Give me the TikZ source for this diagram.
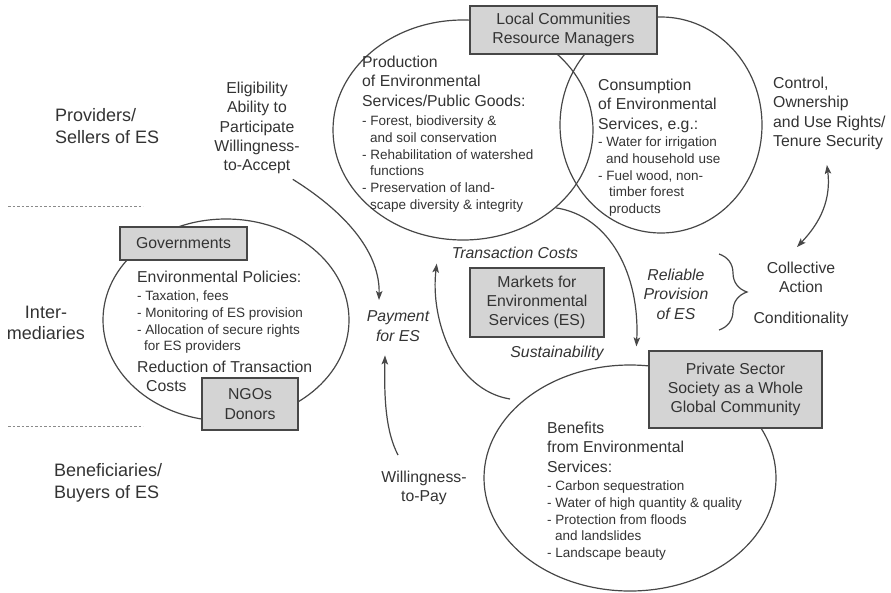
\documentclass[tikz,border=0pt]{standalone}
\usepackage{fontspec}
\setmainfont{Liberation Sans}
\usetikzlibrary{shapes.geometric,arrows.meta,decorations.pathreplacing,calc}
\definecolor{ink}{HTML}{333333}
\definecolor{ln}{HTML}{474747}
\definecolor{boxgray}{HTML}{D4D4D4}
\definecolor{dotgray}{HTML}{8A8A8A}

\begin{document}
\begin{tikzpicture}[x=1pt,y=-1pt,
  every node/.style={inner sep=0pt, text=ink},
  txt/.style={font=\fontsize{15.8}{19.4}\selectfont, align=left},
  ctxt/.style={font=\fontsize{15.8}{19.4}\selectfont, align=center},
  itxt/.style={font=\fontsize{15.8}{19.4}\selectfont\itshape, align=center},
  small/.style={font=\fontsize{13.5}{16.7}\selectfont, align=left},
  side/.style={font=\fontsize{18}{21.8}\selectfont},
  ring/.style={ellipse, draw=ln, line width=1.2pt},
  actor/.style={rectangle, draw=ln, fill=boxgray, line width=1.2pt,
    font=\fontsize{15.8}{19.3}\selectfont, align=center},
  flow/.style={draw=ln, line width=1.2pt, -{Stealth[length=9pt,width=6.5pt,inset=2pt]}},
  twoway/.style={draw=ln, line width=1.2pt, {Stealth[length=9pt,width=6.5pt,inset=2pt]}-{Stealth[length=9pt,width=6.5pt,inset=2pt]}},
  sep/.style={draw=dotgray, line width=1pt, dash pattern=on 2.5pt off 2pt}]

\useasboundingbox (0,0) rectangle (891,592);

% level separators
\draw[sep] (8,206) -- (143,206);
\draw[sep] (8,426) -- (143,426);

% level labels
\node[side, anchor=north west, align=left] (provlab) at (55,108.5) {Providers/\\Sellers of ES};
\node[side, anchor=north, align=center] (intlab) at (46,305.5) {Inter-\\mediaries};
\node[side, anchor=north west, align=left] (benlab) at (54,463.5) {Beneficiaries/\\Buyers of ES};

% rings
\node[ring, minimum width=260pt, minimum height=220pt] (prod) at (463,130) {};
\node[ring, minimum width=202pt, minimum height=216pt] (cons) at (661,125) {};
\node[ring, minimum width=246pt, minimum height=202pt] (gov) at (226,320) {};
\node[ring, minimum width=292pt, minimum height=226pt] (bene) at (630,478) {};

% actor boxes
\node[actor, minimum width=187pt, minimum height=48pt] (local) at (563.5,30) {Local Communities\\Resource Managers};
\node[actor, minimum width=127pt, minimum height=33pt] (govbox) at (183.5,243.5) {Governments};
\node[actor, minimum width=96pt, minimum height=52pt] (ngo) at (250,404) {NGOs\\Donors};
\node[actor, minimum width=134pt, minimum height=69pt] (market) at (537,302.5) {Markets for\\Environmental\\Services (ES)};
\node[actor, minimum width=173pt, minimum height=77pt] (priv) at (735.5,389.5) {Private Sector\\Society as a Whole\\Global Community};

% production of services
\node[txt, anchor=north west] (prodhead) at (362,55.6) {Production\\of Environmental\\Services/Public Goods:};
\node[small, anchor=north west] (prodlist) at (362,115.8) {- Forest, biodiversity \&\\\hspace*{8pt}and soil conservation\\- Rehabilitation of watershed\\\hspace*{8pt}functions\\- Preservation of land-\\\hspace*{8pt}scape diversity \& integrity};

% consumption of services
\node[txt, anchor=north west] (conshead) at (598,78.6) {Consumption\\of Environmental\\Services, e.g.:};
\node[small, anchor=north west] (conslist) at (598,136.8) {- Water for irrigation\\\hspace*{8pt}and household use\\- Fuel wood, non-\\\hspace*{11pt}timber forest\\\hspace*{11pt}products};

% environmental policies
\node[txt, anchor=north west] (polhead) at (137,270.6) {Environmental Policies:};
\node[small, anchor=north west] (pollist) at (137,290.8) {- Taxation, fees\\- Monitoring of ES provision\\- Allocation of secure rights\\\hspace*{7pt}for ES providers};
\node[txt, anchor=north west] (redtc) at (137,360.6) {Reduction of Transaction\\\hspace*{9pt}Costs};

% benefits
\node[txt, anchor=north west] (benhead) at (547,421.6) {Benefits\\from Environmental\\Services:};
\node[small, anchor=north west] (benlist) at (547,480.8) {- Carbon sequestration\\- Water of high quantity \& quality\\- Protection from floods\\\hspace*{8pt}and landslides\\- Landscape beauty};

% conditions and flows
\node[ctxt, anchor=north] (elig) at (257,81.6) {Eligibility\\Ability to\\Participate\\Willingness-\\to-Accept};
\node[itxt, anchor=north] (pay) at (398,310.6) {Payment\\for ES};
\node[ctxt, anchor=north] (wtp) at (424,470.6) {Willingness-\\to-Pay};
\node[itxt, anchor=north] (tc) at (515,246.6) {Transaction Costs};
\node[itxt, anchor=north] (sust) at (557,345.6) {Sustainability};
\node[itxt, anchor=north] (rel) at (676,268.6) {Reliable\\Provision\\of ES};
\node[txt, anchor=north west] (ctrl) at (773,76.6) {Control,\\Ownership\\and Use Rights/\\Tenure Security};
\node[ctxt, anchor=north] (coll) at (801,261.6) {Collective\\Action};
\node[ctxt, anchor=north] (cond) at (801,311.6) {Conditionality};

% brace grouping the conditions
\draw[ln, line width=1.2pt, decorate, decoration={brace, amplitude=28pt}] (719,254) -- (719,330);

% connectors
\coordinate (benetop) at (510,399);
\draw[flow] ($(elig.south east)+(-7,5)$) .. controls (350,215) and (380,255) .. ($(pay.north)+(-19,-10.6)$);
\draw[flow] ($(wtp.north)+(-26,-15.6)$) .. controls (386,432) and (384,400) .. ($(pay.south)+(-13,14)$);
\draw[flow] (benetop) .. controls (455,390) and (430,320) .. ($(tc.west)+(-15,11)$);
\draw[flow] (prod.-40) .. controls (610,216) and (640,275) .. ($(priv.north west)+(-12,-4)$);
\draw[twoway] ($(ctrl.south)+(-2.5,15)$) .. controls (832,205) and (815,228) .. ($(coll.north)+(-4,-14.6)$);

\end{tikzpicture}
\end{document}
